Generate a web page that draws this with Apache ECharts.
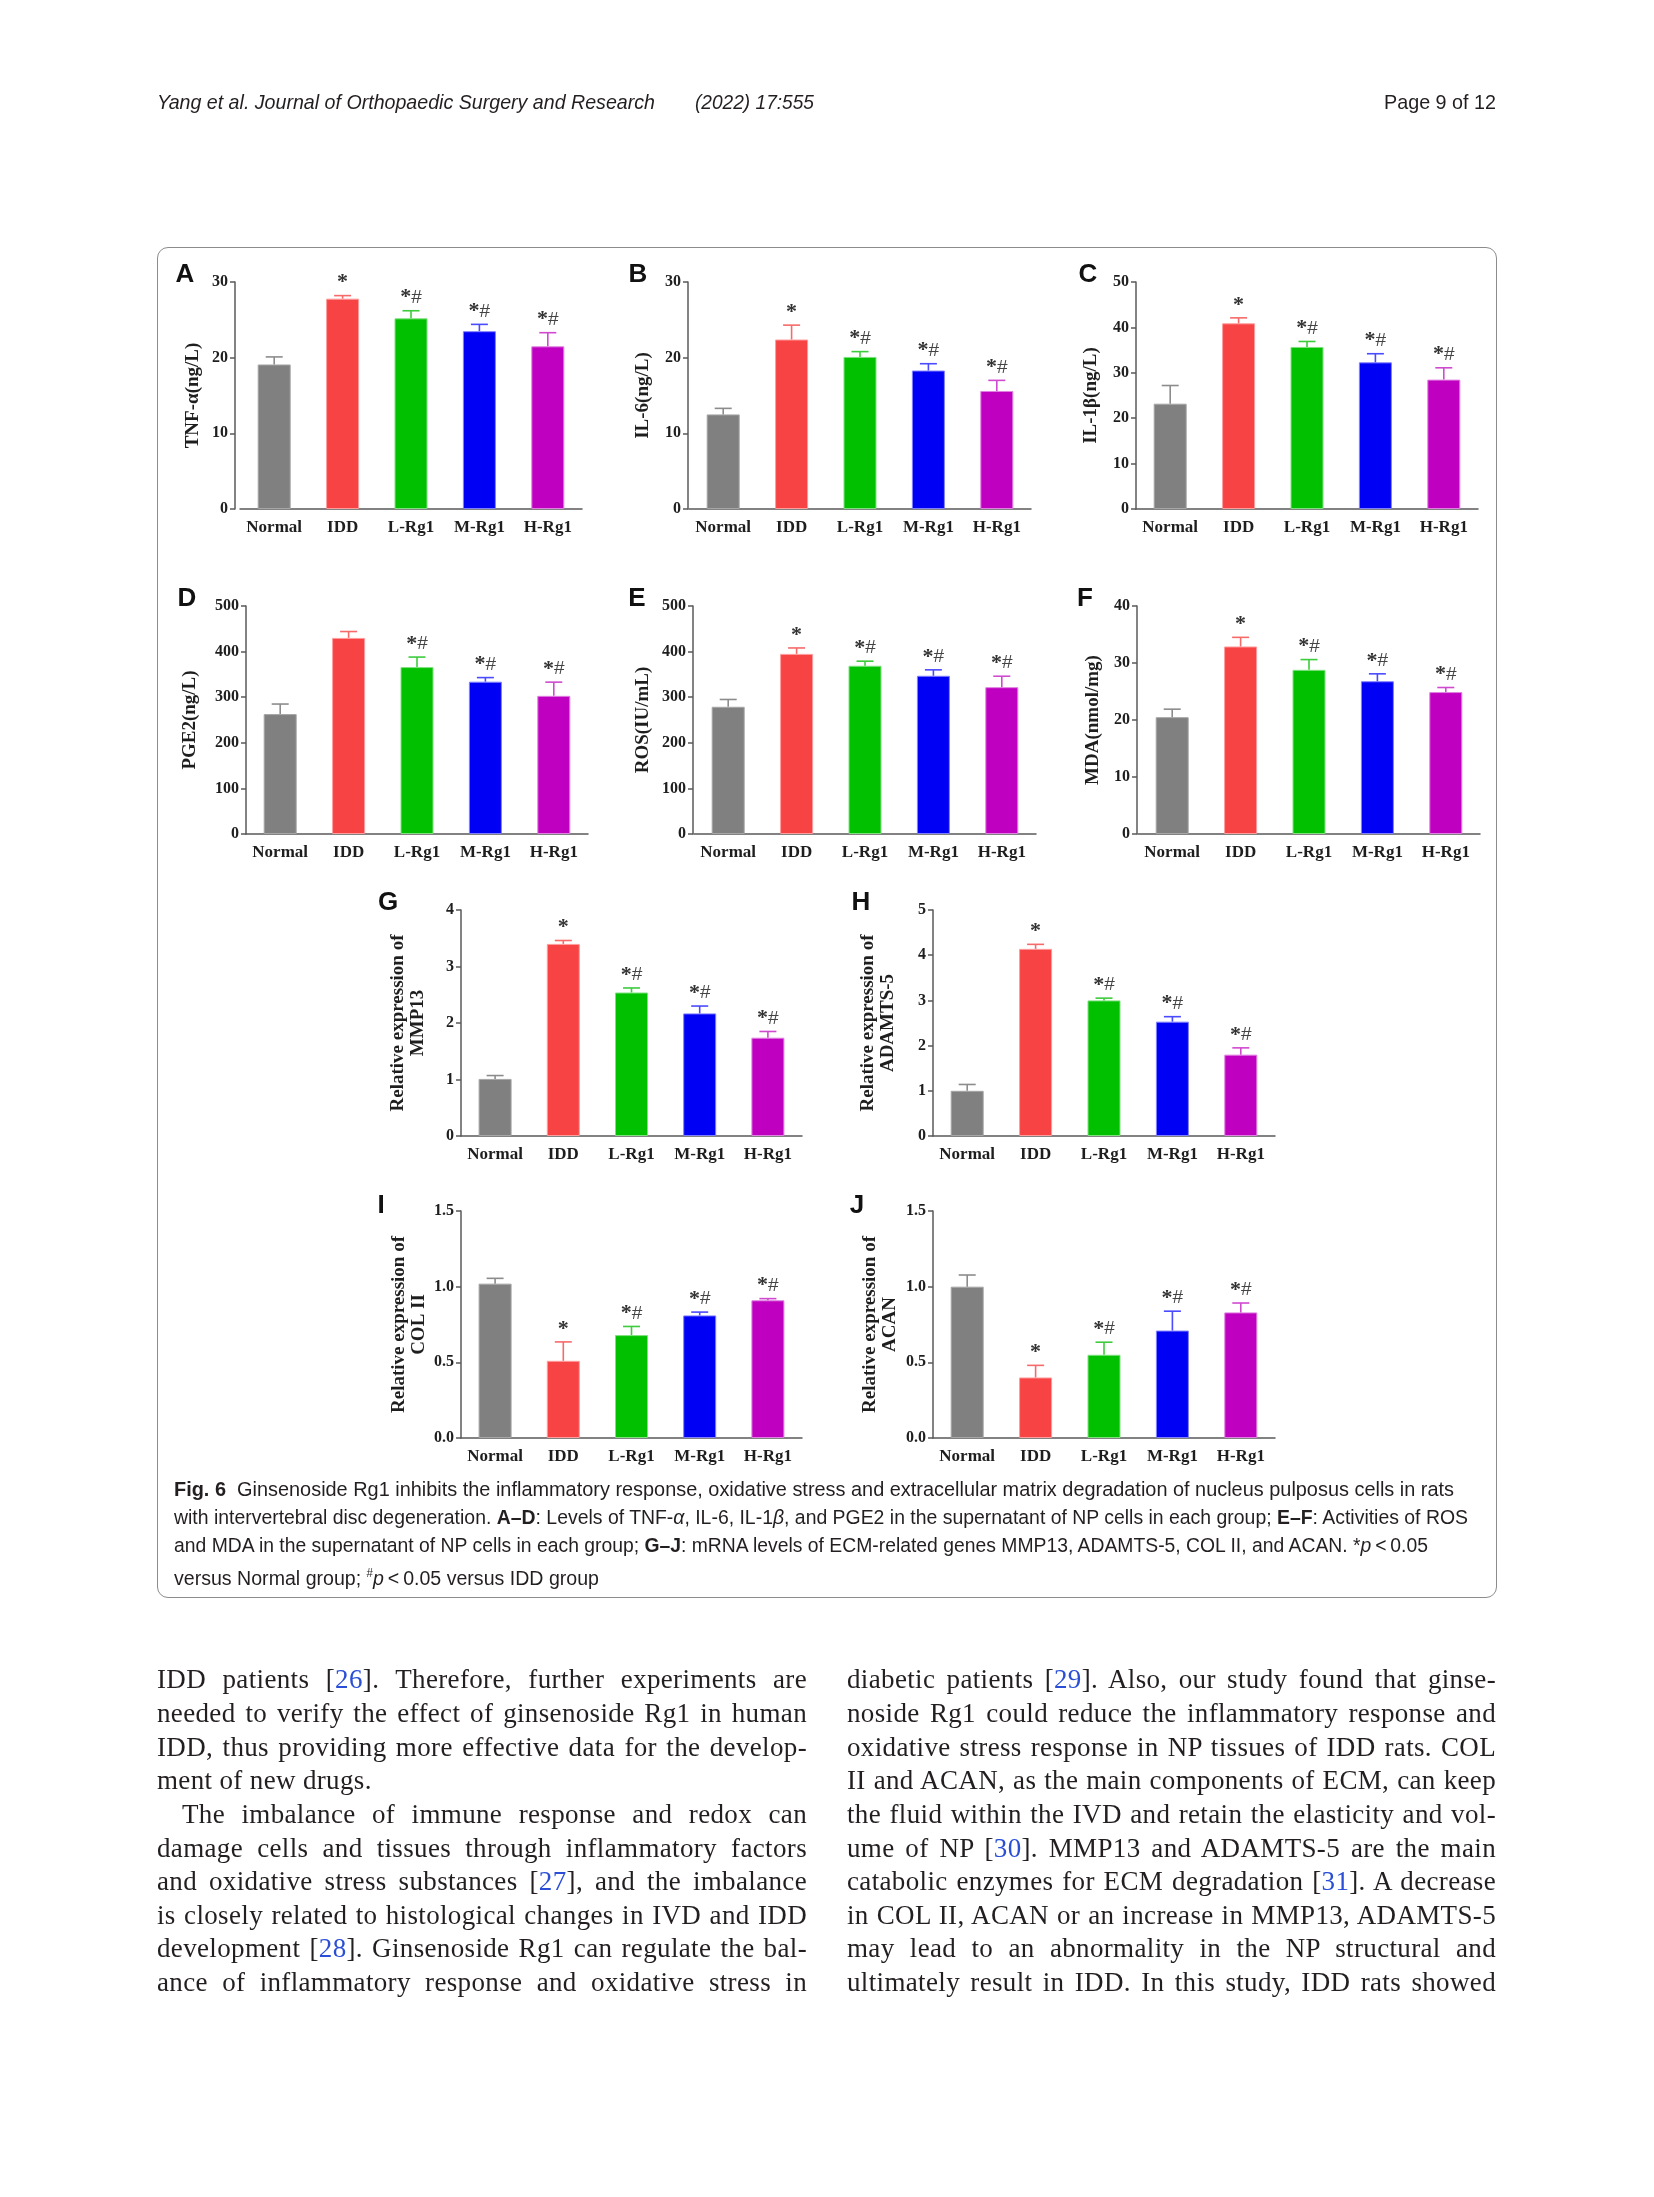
<!DOCTYPE html>
<html>
<head>
<meta charset="utf-8">
<script src="https://cdn.jsdelivr.net/npm/echarts/dist/echarts.min.js"></script>
<style>
  html, body { margin:0; padding:0; background:#fff; }
  body { width:1654px; height:2197px; position:relative; overflow:hidden; }
  #box { position:absolute; left:157px; top:247px; width:1338px; height:1349px; border:1.5px solid #8c8c8c; border-radius:11px; }
  #chart { position:absolute; left:0; top:0; width:1654px; height:2197px; }
  .ln { position:absolute; white-space:nowrap; color:#231f20; }
  .hdr { font-family:"Liberation Sans Narrow","Liberation Sans",sans-serif; font-size:21px; line-height:24px; }
  .cap { font-family:"Liberation Sans Narrow","Liberation Sans",sans-serif; font-size:20.5px; line-height:28px; }
  .body { font-family:"Liberation Serif","Times New Roman",serif; font-size:27px; letter-spacing:0.35px; line-height:34px; }
  .cite { color:#2a4fd6; }
</style>
</head>
<body>
<div id="box"></div>
<div id="chart"></div>

<script>
// ---------------- data ----------------
const categories = ['Normal', 'IDD', 'L-Rg1', 'M-Rg1', 'H-Rg1'];

const tnfMean = [19.1, 27.8, 25.2, 23.5, 21.5];
const tnfErr  = [1.0, 0.4, 1.0, 0.9, 1.8];
const tnfTicks = [0, 10, 20, 30];
const tnfMarks = ['', '*', '*#', '*#', '*#'];

const il6Mean = [12.5, 22.4, 20.1, 18.3, 15.6];
const il6Err  = [0.8, 1.9, 0.7, 0.9, 1.4];
const il6Ticks = [0, 10, 20, 30];
const il6Marks = ['', '*', '*#', '*#', '*#'];

const il1bMean = [23.2, 40.9, 35.7, 32.3, 28.5];
const il1bErr  = [4.0, 1.2, 1.2, 1.9, 2.6];
const il1bTicks = [0, 10, 20, 30, 40, 50];
const il1bMarks = ['', '*', '*#', '*#', '*#'];

const pge2Mean = [263, 430, 366, 334, 303];
const pge2Err  = [22, 14, 22, 9, 30];
const pge2Ticks = [0, 100, 200, 300, 400, 500];
const pge2Marks = ['', '', '*#', '*#', '*#'];

const rosMean = [279, 395, 369, 347, 322];
const rosErr  = [16, 13, 10, 13, 24];
const rosTicks = [0, 100, 200, 300, 400, 500];
const rosMarks = ['', '*', '*#', '*#', '*#'];

const mdaMean = [20.5, 32.9, 28.8, 26.8, 24.9];
const mdaErr  = [1.4, 1.6, 1.8, 1.3, 0.8];
const mdaTicks = [0, 10, 20, 30, 40];
const mdaMarks = ['', '*', '*#', '*#', '*#'];

const mmp13Mean = [1.01, 3.40, 2.54, 2.17, 1.74];
const mmp13Err  = [0.06, 0.06, 0.08, 0.13, 0.11];
const mmp13Ticks = [0, 1, 2, 3, 4];
const mmp13Marks = ['', '*', '*#', '*#', '*#'];

const adamts5Mean = [1.00, 4.14, 3.00, 2.53, 1.80];
const adamts5Err  = [0.14, 0.10, 0.05, 0.11, 0.15];
const adamts5Ticks = [0, 1, 2, 3, 4, 5];
const adamts5Marks = ['', '*', '*#', '*#', '*#'];

const col2Mean = [1.02, 0.51, 0.68, 0.81, 0.91];
const col2Err  = [0.035, 0.125, 0.057, 0.022, 0.011];
const col2Ticks = [0.0, 0.5, 1.0, 1.5];
const col2Marks = ['', '*', '*#', '*#', '*#'];

const acanMean = [1.00, 0.40, 0.55, 0.71, 0.83];
const acanErr  = [0.077, 0.08, 0.083, 0.128, 0.062];
const acanTicks = [0.0, 0.5, 1.0, 1.5];
const acanMarks = ['', '*', '*#', '*#', '*#'];

const panelLetters = ['A', 'B', 'C', 'D', 'E', 'F', 'G', 'H', 'I', 'J'];
const yNames = ['TNF-α(ng/L)', 'IL-6(ng/L)', 'IL-1β(ng/L)', 'PGE2(ng/L)', 'ROS(IU/mL)', 'MDA(nmol/mg)',
  'Relative expression of\nMMP13', 'Relative expression of\nADAMTS-5',
  'Relative expression of\nCOL II', 'Relative expression of\nACAN'];

// ---------------- styles & layout ----------------
const barColors  = ['#808080', '#f74343', '#00c000', '#0000f5', '#c000c0'];
const barBorders = ['#a6a6a6', '#ff9c9c', '#80e080', '#8080ff', '#e080e0'];
const errColors  = ['#8c8c8c', '#f66a6a', '#3ccc3c', '#4a4aff', '#d04ad0'];

const panels = [
  {mean: tnfMean, err: tnfErr, ticks: tnfTicks, marks: tnfMarks, dec: 0},
  {mean: il6Mean, err: il6Err, ticks: il6Ticks, marks: il6Marks, dec: 0},
  {mean: il1bMean, err: il1bErr, ticks: il1bTicks, marks: il1bMarks, dec: 0},
  {mean: pge2Mean, err: pge2Err, ticks: pge2Ticks, marks: pge2Marks, dec: 0},
  {mean: rosMean, err: rosErr, ticks: rosTicks, marks: rosMarks, dec: 0},
  {mean: mdaMean, err: mdaErr, ticks: mdaTicks, marks: mdaMarks, dec: 0},
  {mean: mmp13Mean, err: mmp13Err, ticks: mmp13Ticks, marks: mmp13Marks, dec: 0},
  {mean: adamts5Mean, err: adamts5Err, ticks: adamts5Ticks, marks: adamts5Marks, dec: 0},
  {mean: col2Mean, err: col2Err, ticks: col2Ticks, marks: col2Marks, dec: 1},
  {mean: acanMean, err: acanErr, ticks: acanTicks, marks: acanMarks, dec: 1}
];

const layout = [
  {left: 240, top: 282, width: 342, height: 227, off: 5, gap: 32, lx: 185, ly: 275},
  {left: 689, top: 282, width: 342, height: 227, off: 1, gap: 35, lx: 638, ly: 275},
  {left: 1136, top: 282, width: 342, height: 227, off: 0, gap: 35, lx: 1088, ly: 275},
  {left: 246, top: 606, width: 342, height: 228, off: 0, gap: 46, lx: 187, ly: 599},
  {left: 694, top: 606, width: 342, height: 228, off: 1, gap: 40, lx: 637, ly: 599},
  {left: 1138, top: 606, width: 342, height: 228, off: 1, gap: 34, lx: 1085, ly: 599},
  {left: 461, top: 910, width: 341, height: 226, off: 0, gap: 33, lx: 388, ly: 903},
  {left: 933, top: 910, width: 342, height: 226, off: 0, gap: 35, lx: 861, ly: 903},
  {left: 461, top: 1211, width: 341, height: 227, off: 0, gap: 32, lx: 381, ly: 1206},
  {left: 933, top: 1211, width: 342, height: 227, off: 0, gap: 33, lx: 857, ly: 1206}
];

const serif = '"Liberation Serif","Times New Roman",serif';
const axisCol = '#5a5a5a';

function makeErrRender(marks) {
  return function (params, api) {
    const i = api.value(0), m = api.value(1), e = api.value(2);
    const p0 = api.coord([i, m]);
    const p1 = api.coord([i, m + e]);
    const c = errColors[i];
    const cap = 8.5;
    const ch = [
      {type: 'line', shape: {x1: p0[0], y1: p0[1], x2: p1[0], y2: p1[1]}, style: {stroke: c, lineWidth: 1.6}},
      {type: 'line', shape: {x1: p1[0] - cap, y1: p1[1], x2: p1[0] + cap, y2: p1[1]}, style: {stroke: c, lineWidth: 1.6}}
    ];
    const mk = marks[i];
    if (mk) {
      ch.push({
        type: 'text', x: p1[0], y: p1[1] - 13,
        style: {
          text: mk === '*' ? '{s|*}' : '{s|*}{h|#}',
          align: 'center', verticalAlign: 'middle',
          rich: {
            s: {fontFamily: serif, fontWeight: 'bold', fontSize: 22, fill: '#333'},
            h: {fontFamily: '"Liberation Sans",Arial,sans-serif', fontSize: 19, fill: '#444'}
          }
        }
      });
    }
    return {type: 'group', children: ch};
  };
}

const grids = [], xAxes = [], yAxes = [], series = [], graphics = [];
panels.forEach((p, k) => {
  const L = layout[k];
  grids.push({left: L.left, top: L.top, width: L.width, height: L.height, containLabel: false});
  xAxes.push({
    type: 'category', gridIndex: k, data: categories,
    axisLine: {lineStyle: {color: axisCol, width: 1.5}},
    axisTick: {alignWithLabel: true, length: 5, lineStyle: {color: axisCol, width: 1.5}},
    axisLabel: {interval: 0, hideOverlap: false, fontFamily: serif, fontWeight: 'bold', fontSize: 17,
      color: '#1e1e1e', margin: 10}
  });
  const t = p.ticks;
  yAxes.push({
    type: 'value', gridIndex: k, min: t[0], max: t[t.length - 1], interval: t[1] - t[0],
    offset: L.off,
    name: yNames[k], nameLocation: 'middle', nameGap: L.gap,
    nameTextStyle: {fontFamily: serif, fontWeight: 'bold', fontSize: 19, color: '#1e1e1e', lineHeight: 20},
    axisLine: {show: true, lineStyle: {color: axisCol, width: 1.5}},
    axisTick: {show: true, length: 5, lineStyle: {color: axisCol, width: 1.5}},
    splitLine: {show: false},
    axisLabel: {fontFamily: serif, fontWeight: 'bold', fontSize: 16, color: '#1e1e1e', margin: 7,
      formatter: v => v.toFixed(p.dec)}
  });
  series.push({
    type: 'bar', xAxisIndex: k, yAxisIndex: k, barWidth: 33, z: 2,
    data: p.mean.map((v, i) => ({value: v, itemStyle: {color: barColors[i], borderColor: barBorders[i], borderWidth: 1}}))
  });
  series.push({
    type: 'custom', xAxisIndex: k, yAxisIndex: k, z: 5, silent: true,
    renderItem: makeErrRender(p.marks),
    data: p.mean.map((v, i) => [i, v, p.err[i]])
  });
  graphics.push({
    type: 'text', x: L.lx, y: L.ly,
    style: {text: panelLetters[k], font: 'bold 26px "Liberation Sans",Arial,sans-serif', fill: '#111',
      align: 'center', verticalAlign: 'middle'}
  });
});

const chart = echarts.init(document.getElementById('chart'), null, {renderer: 'canvas'});
chart.setOption({
  animation: false,
  grid: grids, xAxis: xAxes, yAxis: yAxes, series: series, graphic: graphics
});

// ---------------- page text ----------------
function addLine(cls, html, x, yc, lh) {
  const d = document.createElement('div');
  d.className = 'ln ' + cls;
  d.innerHTML = html;
  d.style.left = x + 'px';
  d.style.top = (yc - lh / 2) + 'px';
  document.body.appendChild(d);
  return d;
}
function fitScale(el, w) {
  const nat = el.getBoundingClientRect().width;
  el.style.transformOrigin = '0 0';
  el.style.transform = 'scaleX(' + (w / nat) + ')';
}
function justify(el, w) {
  const nat = el.getBoundingClientRect().width;
  const n = (el.textContent.match(/ /g) || []).length;
  if (n > 0) el.style.wordSpacing = ((w - nat) / n) + 'px';
}

// header
fitScale(addLine('hdr', '<i>Yang et al. Journal of Orthopaedic Surgery and Research</i>', 157, 102, 24), 498);
fitScale(addLine('hdr', '<i>(2022) 17:555</i>', 695, 102, 24), 119);
fitScale(addLine('hdr', 'Page 9 of 12', 1384, 102, 24), 112);

// caption
const capLines = [
  ['<b>Fig. 6</b>&nbsp; Ginsenoside Rg1 inhibits the inflammatory response, oxidative stress and extracellular matrix degradation of nucleus pulposus cells in rats', 1280],
  ['with intervertebral disc degeneration. <b>A–D</b>: Levels of TNF-<i>α</i>, IL-6, IL-1<i>β</i>, and PGE2 in the supernatant of NP cells in each group; <b>E–F</b>: Activities of ROS', 1294],
  ['and MDA in the supernatant of NP cells in each group; <b>G–J</b>: mRNA levels of ECM-related genes MMP13, ADAMTS-5, COL II, and ACAN. *<i>p</i>&thinsp;&lt;&thinsp;0.05', 1254],
  ['versus Normal group; <sup style="font-size:12px">#</sup><i>p</i>&thinsp;&lt;&thinsp;0.05 versus IDD group', 425]
];
const capY = [1489, 1517, 1545, 1573];
capLines.forEach((c, i) => fitScale(addLine('cap', c[0], 174, capY[i], 28), c[1]));

// body columns
const c = n => '[<span class="cite">' + n + '</span>]';
const leftCol = [
  ['IDD patients ' + c(26) + '. Therefore, further experiments are', 157, true],
  ['needed to verify the effect of ginsenoside Rg1 in human', 157, true],
  ['IDD, thus providing more effective data for the develop-', 157, true],
  ['ment of new drugs.', 157, false],
  ['The imbalance of immune response and redox can', 182, true],
  ['damage cells and tissues through inflammatory factors', 157, true],
  ['and oxidative stress substances ' + c(27) + ', and the imbalance', 157, true],
  ['is closely related to histological changes in IVD and IDD', 157, true],
  ['development ' + c(28) + '. Ginsenoside Rg1 can regulate the bal-', 157, true],
  ['ance of inflammatory response and oxidative stress in', 157, true]
];
const rightCol = [
  ['diabetic patients ' + c(29) + '. Also, our study found that ginse-', 847, true],
  ['noside Rg1 could reduce the inflammatory response and', 847, true],
  ['oxidative stress response in NP tissues of IDD rats. COL', 847, true],
  ['II and ACAN, as the main components of ECM, can keep', 847, true],
  ['the fluid within the IVD and retain the elasticity and vol-', 847, true],
  ['ume of NP ' + c(30) + '. MMP13 and ADAMTS-5 are the main', 847, true],
  ['catabolic enzymes for ECM degradation ' + c(31) + '. A decrease', 847, true],
  ['in COL II, ACAN or an increase in MMP13, ADAMTS-5', 847, true],
  ['may lead to an abnormality in the NP structural and', 847, true],
  ['ultimately result in IDD. In this study, IDD rats showed', 847, true]
];
const bodyY = [1679, 1713, 1746.5, 1780, 1814, 1847.5, 1881, 1915, 1948, 1982];
leftCol.forEach((l, i) => {
  const el = addLine('body', l[0], l[1], bodyY[i], 34);
  if (l[2]) justify(el, 807 - l[1]);
});
rightCol.forEach((l, i) => {
  const el = addLine('body', l[0], l[1], bodyY[i], 34);
  if (l[2]) justify(el, 1496 - l[1]);
});
</script>
</body>
</html>
